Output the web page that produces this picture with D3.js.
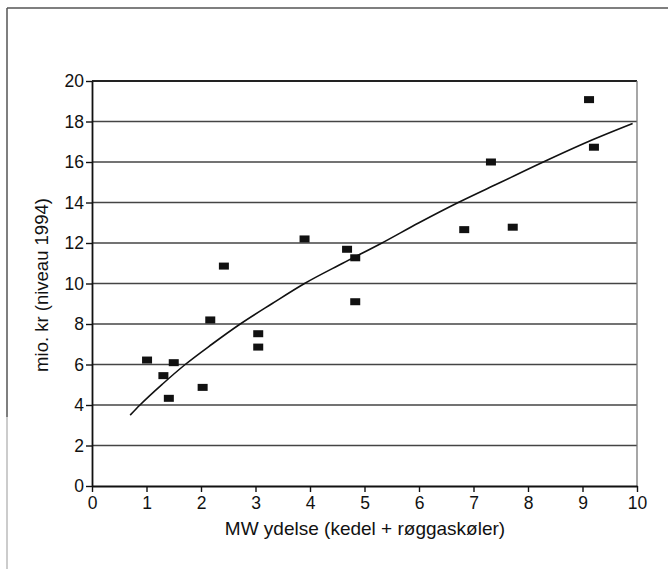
<!DOCTYPE html>
<html><head><meta charset="utf-8">
<script src="https://cdn.jsdelivr.net/npm/d3@7"></script>
<style>body{margin:0;background:#fff}svg{display:block}text{font-family:"Liberation Sans",Arial,sans-serif;fill:#111}</style>
</head><body><svg id="c" width="668" height="569"></svg>
<script>
// data
const mwValues   = [1.01,1.31,1.50,1.41,2.03,2.17,2.42,3.05,3.05,3.90,4.68,4.83,4.83,6.83,7.72,7.32,9.12,9.21];
const costValues = [6.22,5.45,6.09,4.33,4.87,8.20,10.86,7.52,6.86,12.20,11.69,11.27,9.10,12.66,12.78,16.0,19.08,16.73];
const trendX = [0.70,0.88,1.30,1.71,2.20,2.72,3.30,3.90,4.60,5.32,6.00,6.72,7.50,8.28,9.10,9.92];
const trendY = [3.50,4.00,5.05,6.00,7.00,8.00,9.00,10.0,11.0,12.0,13.0,14.0,15.0,16.0,17.0,17.9];
const xTicks = [0,1,2,3,4,5,6,7,8,9,10];
const yTicks = [0,2,4,6,8,10,12,14,16,18,20];
const xTitle = "MW ydelse (kedel + røggaskøler)";
const yTitle = "mio. kr (niveau 1994)";

const svg = d3.select("#c");
const m = {l:92, r:637, t:81, b:486};
const x = d3.scaleLinear().domain([0,10]).range([m.l, m.r]);
const y = d3.scaleLinear().domain([0,20]).range([m.b, m.t]);

// outer frame
svg.append("line").attr("x1",7).attr("x2",668).attr("y1",8).attr("y2",8).attr("stroke","#555").attr("stroke-width",1.5);
svg.append("line").attr("x1",7).attr("x2",7).attr("y1",8).attr("y2",417).attr("stroke","#555").attr("stroke-width",1.5);
svg.append("line").attr("x1",7).attr("x2",7).attr("y1",417).attr("y2",569).attr("stroke","#bbb").attr("stroke-width",1.5);

// gridlines
svg.append("g").selectAll("line").data(yTicks.filter(d=>d>0)).join("line")
  .attr("x1",m.l).attr("x2",m.r).attr("y1",d=>y(d)).attr("y2",d=>y(d))
  .attr("stroke",d=>d===20?"#222":"#444").attr("stroke-width",d=>d===20?2:1.4);
// right border
svg.append("line").attr("x1",m.r).attr("x2",m.r).attr("y1",m.t).attr("y2",m.b).attr("stroke","#777").attr("stroke-width",1.3);

// axes
const ax = svg.append("g").attr("transform",`translate(0,${m.b})`)
  .call(d3.axisBottom(x).tickValues(xTicks).tickSize(6).tickSizeOuter(0).tickPadding(5));
const ay = svg.append("g").attr("transform",`translate(${m.l},0)`)
  .call(d3.axisLeft(y).tickValues(yTicks).tickSize(6).tickSizeOuter(0).tickPadding(2));
[ax,ay].forEach(g=>{
  g.select(".domain").attr("stroke","#111").attr("stroke-width",1.8);
  g.selectAll(".tick line").attr("stroke","#111").attr("stroke-width",1.4);
  g.selectAll(".tick text").attr("font-size",17.5).attr("fill","#111");
});

// trend curve
svg.append("path").datum(trendX.map((d,i)=>[d,trendY[i]]))
  .attr("d", d3.line().x(d=>x(d[0])).y(d=>y(d[1])).curve(d3.curveMonotoneX))
  .attr("fill","none").attr("stroke","#111").attr("stroke-width",1.6);

// markers
svg.append("g").selectAll("rect").data(mwValues.map((d,i)=>[d,costValues[i]])).join("rect")
  .attr("x",d=>x(d[0])-5).attr("y",d=>y(d[1])-3.5).attr("width",10).attr("height",7)
  .attr("fill","#111");

// titles
svg.append("text").attr("x",365).attr("y",535).attr("text-anchor","middle")
  .attr("font-size",19).text(xTitle);
svg.append("text").attr("transform",`translate(48,285)rotate(-90)`)
  .attr("text-anchor","middle").attr("font-size",18.5).text(yTitle);
</script></body></html>
